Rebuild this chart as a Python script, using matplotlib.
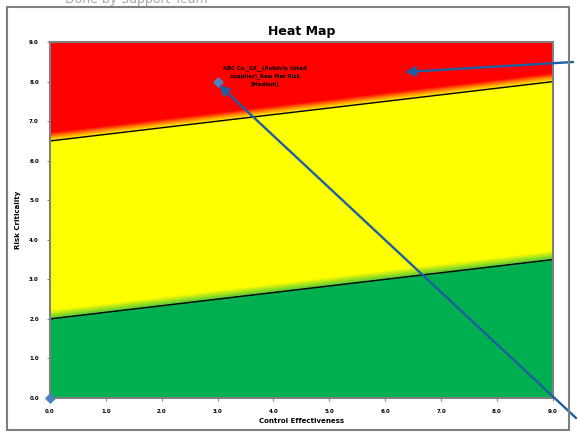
import numpy as np
import matplotlib.pyplot as plt
from matplotlib.patches import Rectangle, FancyArrowPatch

# Risk band boundaries (x: control effectiveness, y: risk criticality)
x_ends = [0.0, 9.0]
lower_line = [2.0, 3.5]
upper_line = [6.5, 8.0]

# Plotted risks
pt_x = [0.0, 3.0]
pt_y = [0.0, 8.0]
pt_label = "ABC Co._XX__(Publicly listed\nsupplier)_Raw Mat Risk\n[Medium]"

ticks = np.arange(0, 10, 1.0)

RED = np.array([1.0, 0.0, 0.0])
ORANGE = np.array([1.0, 0.55, 0.0])
YELLOW = np.array([1.0, 1.0, 0.0])
GREEN = np.array([0.0, 0.69, 0.31])

fig = plt.figure(figsize=(5.78, 4.34), dpi=100)
ax = fig.add_axes([0.0865, 0.083, 0.870, 0.820])

# background bands, with a soft fade just above each boundary
gx, gy = np.meshgrid(np.linspace(0, 9, 800), np.linspace(0, 9, 800))
lo = np.interp(gx, x_ends, lower_line)
up = np.interp(gx, x_ends, upper_line)
band = 0.22
t_lo = np.clip((gy - lo) / band, 0, 1)[..., None]
t_up = np.clip((gy - up) / band, 0, 1)[..., None]
mid = GREEN * 0.7 * (1 - t_lo) + YELLOW * (1 - 0.7 * (1 - t_lo))
top = np.where(t_up >= 0.5,
               ORANGE * (1 - (t_up - 0.5) * 2) + RED * ((t_up - 0.5) * 2),
               YELLOW * (1 - t_up * 2) + ORANGE * (t_up * 2))
img = np.where((gy < lo)[..., None], GREEN, np.where((gy < up)[..., None], mid, top))
ax.imshow(img, origin="lower", extent=(0, 9, 0, 9), aspect="auto", interpolation="bilinear")

ax.plot(x_ends, lower_line, color="black", lw=1.0)
ax.plot(x_ends, upper_line, color="black", lw=1.0)

ax.scatter(pt_x, pt_y, marker="D", s=22, color="#4f81bd", zorder=5, clip_on=False)
ax.text(pt_x[1] + 0.85, pt_y[1] + 0.15, pt_label, fontsize=3.8, ha="center", va="center",
        fontweight="bold", linespacing=1.6)

ax.set_xlim(0, 9)
ax.set_ylim(0, 9)
ax.set_xticks(ticks)
ax.set_yticks(ticks)
ax.set_xticklabels([f"{t:.1f}" for t in ticks], fontsize=4, fontweight="bold")
ax.set_yticklabels([f"{t:.1f}" for t in ticks], fontsize=4, fontweight="bold")
ax.tick_params(length=2, color="#888888", pad=6)
for s in ax.spines.values():
    s.set_color("#7f7f7f")
    s.set_linewidth(1.5)
ax.set_xlabel("Control Effectiveness", fontsize=5, fontweight="bold", labelpad=3)
ax.set_ylabel("Risk Criticality", fontsize=5, fontweight="bold", labelpad=6)
ax.set_title("Heat Map", fontsize=9, fontweight="bold", pad=5)

# outer chart border and header text
fig.patches.append(Rectangle((7 / 578, 4 / 434), 562 / 578, 423 / 434, transform=fig.transFigure,
                             fill=False, edgecolor="#7f7f7f", lw=1.5))
fig.text(65 / 578, 1.0, "Done by Support Team", fontsize=9, color="#a6a6a6", va="center", ha="left")

# callout arrows from outside the chart
arrow = dict(arrowstyle="-|>", color="#1f5f9f", lw=1.7, mutation_scale=15,
             transform=fig.transFigure, shrinkA=0, shrinkB=0)
fig.add_artist(FancyArrowPatch((573 / 578, 1 - 62 / 434), (405 / 578, 1 - 72 / 434), **arrow))
fig.add_artist(FancyArrowPatch((576 / 578, 1 - 418 / 434), (219 / 578, 1 - 85 / 434), **arrow))

fig.savefig("out.png", dpi=100)
